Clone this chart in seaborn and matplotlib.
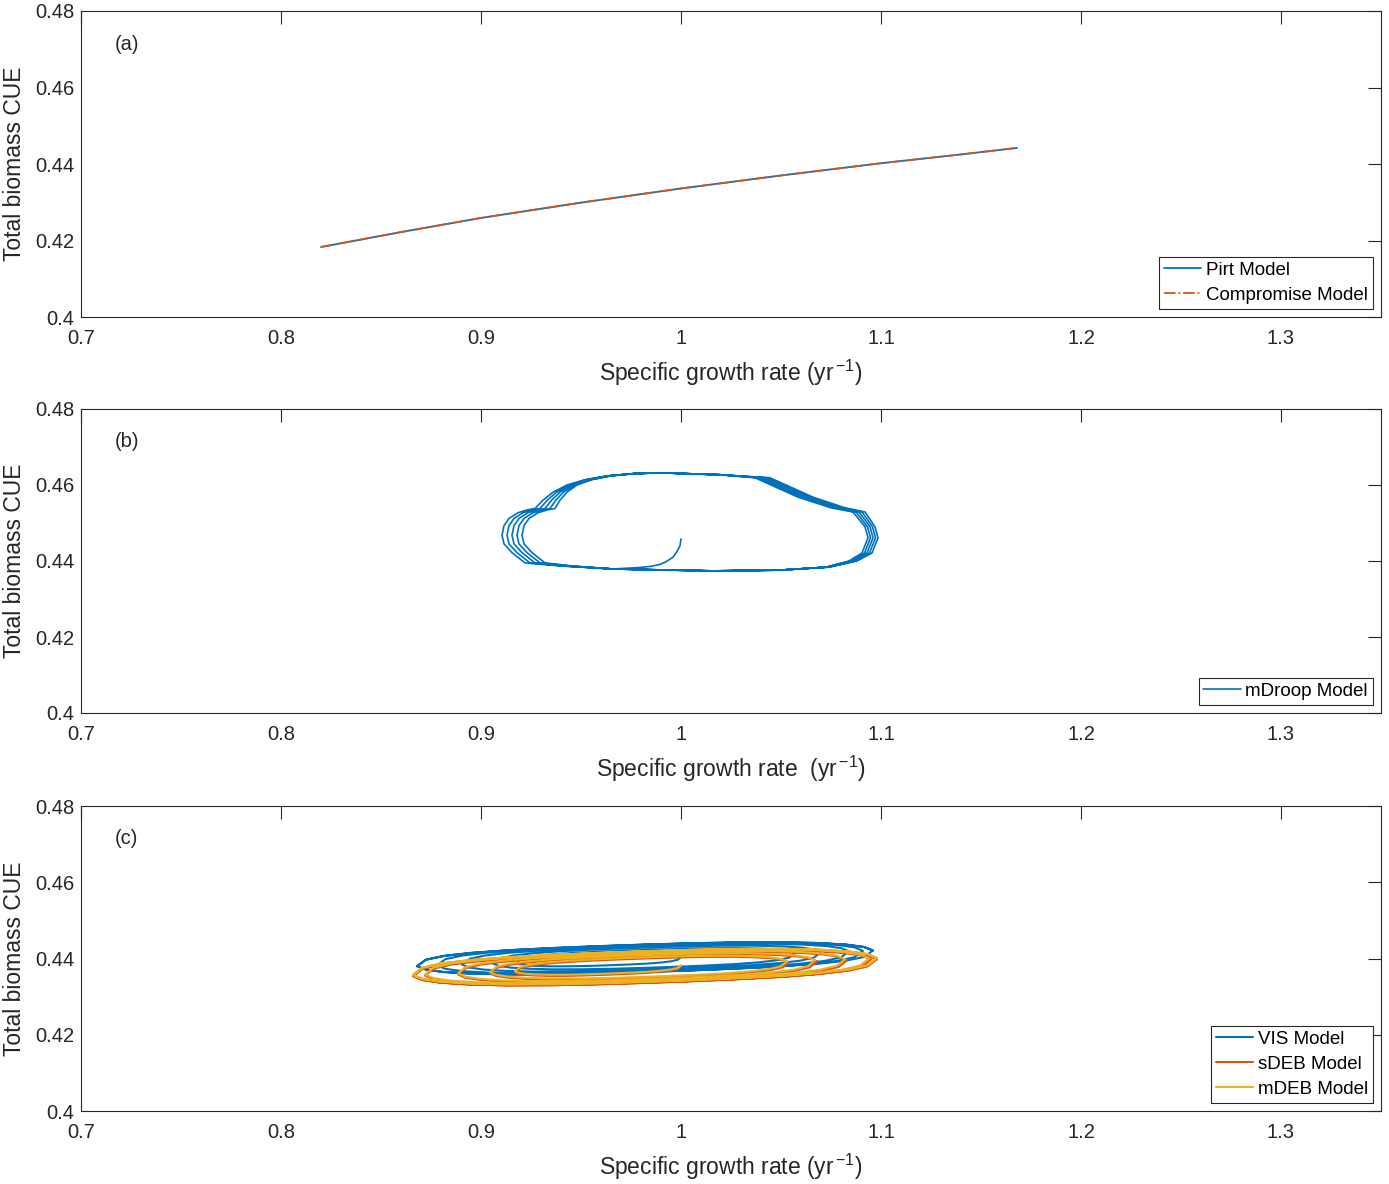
import numpy as np
import pandas as pd
import matplotlib
matplotlib.use("Agg")
import matplotlib.pyplot as plt
import seaborn as sns

# ---------------- data ----------------
x_ticks = [0.7, 0.8, 0.9, 1.0, 1.1, 1.2, 1.3]
x_tick_labels = ["0.7", "0.8", "0.9", "1", "1.1", "1.2", "1.3"]
y_ticks = [0.40, 0.42, 0.44, 0.46, 0.48]
y_tick_labels = ["0.4", "0.42", "0.44", "0.46", "0.48"]

# panel (a)
pirt_x = [0.820, 0.860, 0.900, 0.950, 1.000, 1.050, 1.100, 1.140, 1.168]
pirt_y = [0.4183, 0.4222, 0.4259, 0.4299, 0.4336, 0.4370, 0.4402, 0.4425, 0.4442]
comp_x = [0.820, 0.860, 0.900, 0.950, 1.000, 1.050, 1.100, 1.140, 1.166]
comp_y = [0.4183, 0.4222, 0.4259, 0.4299, 0.4336, 0.4370, 0.4402, 0.4425, 0.4441]

# panel (b): start transient, one limit-cycle outline, per-vertex spread weight, cycle spreads
mdroop_start_x = [1.000, 0.9995, 0.998, 0.996, 0.9925, 0.9895, 0.985, 0.9795, 0.973]
mdroop_start_y = [0.4458, 0.4440, 0.4425, 0.4410, 0.4398, 0.4391, 0.4386, 0.4383, 0.4381]
mdroop_loop_x = [0.966, 0.9395, 0.922, 0.9155, 0.9115, 0.9105, 0.9115, 0.914, 0.9185, 0.9235, 0.927,
                 0.931, 0.936, 0.943, 0.952, 0.963, 0.976, 0.990, 1.0195, 1.0445, 1.066, 1.082,
                 1.092, 1.097, 1.0985, 1.0955, 1.088, 1.0745, 1.0495, 1.016]
mdroop_loop_y = [0.4379, 0.4387, 0.4395, 0.4422, 0.4445, 0.4468, 0.4493, 0.4512, 0.4527, 0.4535, 0.4538,
                 0.4560, 0.4581, 0.4600, 0.4614, 0.4624, 0.4630, 0.4632, 0.4627, 0.4619, 0.4568, 0.4540,
                 0.4529, 0.4490, 0.4461, 0.4421, 0.4400, 0.4384, 0.4376, 0.4374]
mdroop_loop_w = [0.0, 0.6, 1.0, 1.0, 1.0, 1.0, 1.0, 1.0, 1.0, 1.0, 1.0,
                 0.85, 0.7, 0.5, 0.35, 0.2, 0.1, 0.0, 0.0, -0.75, -0.75, -0.7,
                 -0.6, -0.5, -0.5, -0.5, -0.4, -0.2, 0.0, 0.0]
mdroop_cycle_spread = [0.010, 0.0075, 0.005, 0.0025, 0.0]

# panel (c): spiral turning points (x) and half-cycle heights
vis_turns = [1.000, 0.918, 1.057, 0.906, 1.070, 0.8905, 1.084, 0.878, 1.091, 0.868, 1.096, 0.868, 1.096]
vis_heights = [0.0015, 0.0022, 0.0025, 0.0028, 0.0030, 0.0032, 0.0034, 0.0035, 0.0036, 0.0036, 0.0036, 0.0036]
vis_base = [0.868, 0.4380, 0.0180]          # x ref, y at x ref, slope

sdeb_turns = [1.000, 0.917, 1.054, 0.9045, 1.068, 0.8885, 1.083, 0.872, 1.095, 0.866, 1.098, 0.866, 1.098]
sdeb_heights = [0.0015, 0.0024, 0.0027, 0.0030, 0.0033, 0.0035, 0.0037, 0.0039, 0.0040, 0.0040, 0.0040, 0.0040]
sdeb_base = [0.866, 0.4354, 0.0190]

mdeb_turns = [1.000, 0.917, 1.053, 0.9045, 1.067, 0.8885, 1.082, 0.872, 1.094, 0.866, 1.098, 0.866, 1.098]
mdeb_heights = [0.0015, 0.0024, 0.0027, 0.0030, 0.0033, 0.0035, 0.0037, 0.0039, 0.0040, 0.0040, 0.0040, 0.0040]
mdeb_base = [0.866, 0.4357, 0.0190]

# half-cycle profile (position fraction, height fraction)
prof_s = [0, 0.02, 0.06, 0.12, 0.2, 0.3, 0.4, 0.5, 0.6, 0.7, 0.8, 0.88, 0.94, 0.98, 1.0]
prof_h = [0, 0.45, 0.68, 0.83, 0.93, 0.98, 1.0, 1.0, 0.98, 0.93, 0.83, 0.68, 0.5, 0.28, 0]

BLUE = "#0072BD"
ORANGE = "#D95319"
YELLOW = "#EDB120"
DARK = "#262626"

# ---------------- build trajectories ----------------
def build_mdroop():
    xs = list(mdroop_start_x)
    ys = list(mdroop_start_y)
    lx = np.array(mdroop_loop_x)
    ly = np.array(mdroop_loop_y)
    lw = np.array(mdroop_loop_w)
    for sp in mdroop_cycle_spread:
        xs.extend(list(lx + sp * lw))
        ys.extend(list(ly))
    xs.append(mdroop_loop_x[0])
    ys.append(mdroop_loop_y[0])
    return xs, ys


def build_spiral(turns, heights, base):
    xref, yref, slope = base
    s = np.array(prof_s)
    h = np.array(prof_h)
    xs, ys = [], []
    for i in range(len(turns) - 1):
        a, b = turns[i], turns[i + 1]
        sign = -1.0 if b < a else 1.0
        x = a + (b - a) * s
        y = yref + slope * (x - xref) + sign * heights[i] * h
        if i > 0:
            x, y = x[1:], y[1:]
        xs.extend(list(x))
        ys.extend(list(y))
    return xs, ys


# ---------------- style ----------------
sns.set_theme(style="white")
plt.rcParams["font.family"] = ["Liberation Sans", "DejaVu Sans"]
plt.rcParams["mathtext.fontset"] = "custom"
plt.rcParams["mathtext.rm"] = "Liberation Sans"
plt.rcParams["mathtext.it"] = "Liberation Sans:italic"
plt.rcParams["text.color"] = DARK
plt.rcParams["axes.labelcolor"] = DARK

fig = plt.figure(figsize=(13.89, 11.84), dpi=100)
W, H = 1389.0, 1184.0
panels = [(11, 317), (409, 713), (806, 1111)]
axes = []
for top, bot in panels:
    ax = fig.add_axes([81 / W, 1 - bot / H, 1300 / W, (bot - top) / H])
    axes.append(ax)

xlabels = [r"Specific growth rate (yr$^{\,\mathrm{-1}}$)",
           r"Specific growth rate  (yr$^{\,\mathrm{-1}}$)",
           r"Specific growth rate (yr$^{\,\mathrm{-1}}$)"]
letters = ["(a)", "(b)", "(c)"]

# panel a
ax = axes[0]
sns.lineplot(x=pirt_x, y=pirt_y, sort=False, estimator=None, color=BLUE, lw=1.3,
             ax=ax, label="Pirt Model")
sns.lineplot(x=comp_x, y=comp_y, sort=False, estimator=None, color=ORANGE, lw=1.3,
             linestyle="-.", ax=ax, label="Compromise Model")

# panel b
ax = axes[1]
bx, by = build_mdroop()
sns.lineplot(x=bx, y=by, sort=False, estimator=None, color=BLUE, lw=1.2,
             ax=ax, label="mDroop Model")

# panel c
ax = axes[2]
vx, vy = build_spiral(vis_turns, vis_heights, vis_base)
sx, sy = build_spiral(sdeb_turns, sdeb_heights, sdeb_base)
mx, my = build_spiral(mdeb_turns, mdeb_heights, mdeb_base)
sns.lineplot(x=vx, y=vy, sort=False, estimator=None, color=BLUE, lw=1.5, ax=ax, label="VIS Model")
sns.lineplot(x=sx, y=sy, sort=False, estimator=None, color=ORANGE, lw=1.5, ax=ax, label="sDEB Model")
sns.lineplot(x=mx, y=my, sort=False, estimator=None, color=YELLOW, lw=1.5, ax=ax, label="mDEB Model")

for i, ax in enumerate(axes):
    ax.set_xlim(0.7, 1.35)
    ax.set_ylim(0.40, 0.48)
    ax.set_xticks(x_ticks)
    ax.set_xticklabels(x_tick_labels)
    ax.set_yticks(y_ticks)
    ax.set_yticklabels(y_tick_labels)
    ax.tick_params(axis="both", direction="in", length=9.5, width=0.8, color=DARK,
                   labelcolor=DARK, labelsize=14.5, top=True, right=True)
    ax.tick_params(axis="x", pad=8.5)
    ax.tick_params(axis="y", pad=5)
    for sp in ax.spines.values():
        sp.set_visible(True)
        sp.set_color(DARK)
        sp.set_linewidth(0.8)
    ax.set_xlabel(xlabels[i], fontsize=16.5, labelpad=7)
    ax.set_ylabel("Total biomass CUE", fontsize=16.5, labelpad=6)
    ax.text(0.026, 0.892, letters[i], transform=ax.transAxes, fontsize=14.5,
            va="center", ha="left", color=DARK)
    leg = ax.legend(loc="lower right", fontsize=13.5, frameon=True, fancybox=False,
                    framealpha=1, edgecolor=DARK, borderaxespad=0.45, borderpad=0.25,
                    labelspacing=0.42, handlelength=2.0, handletextpad=0.25)
    leg.get_frame().set_linewidth(0.8)
    for t in leg.get_texts():
        t.set_color("black")

fig.savefig("out.png", dpi=100)
